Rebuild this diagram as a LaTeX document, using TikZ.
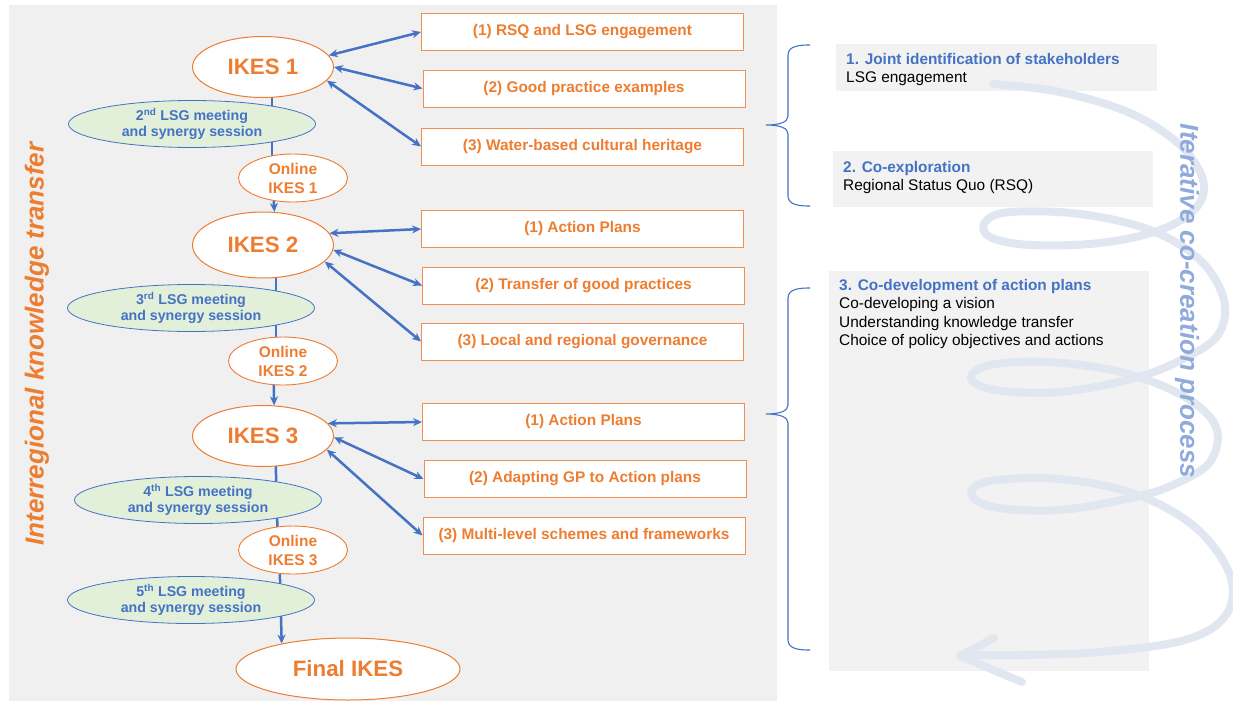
\documentclass[tikz,border=0pt]{standalone}
\usepackage{fontspec}
\setmainfont{Liberation Sans}
\usetikzlibrary{shapes.geometric,arrows.meta,calc}
\definecolor{orng}{HTML}{ED7D31}
\definecolor{blu}{HTML}{4472C4}
\definecolor{grn}{HTML}{E2F0D9}
\definecolor{panel}{HTML}{F0F0F0}
\definecolor{boxg}{HTML}{F2F2F2}
\definecolor{iter}{HTML}{8FAADC}
\definecolor{swirlc}{HTML}{E1E7F0}
\pgfdeclarelayer{bg}
\pgfdeclarelayer{lines}
\pgfsetlayers{bg,lines,main}
\tikzset{
  ikes/.style={ellipse, draw=orng, fill=white, line width=1pt, minimum width=141pt, minimum height=61pt, inner sep=0pt, font=\fontsize{22.3}{26}\selectfont\bfseries, text=orng},
  online/.style={ellipse, draw=orng, fill=white, line width=0.9pt, minimum width=109pt, minimum height=48pt, inner sep=0pt, align=center, font=\fontsize{15.5}{19}\selectfont\bfseries, text=orng},
  lsg/.style={ellipse, draw=blu, fill=grn, line width=0.8pt, minimum width=247pt, minimum height=47pt, inner sep=0pt, align=center, font=\fontsize{14.2}{16.5}\selectfont\bfseries, text=blu},
  topic/.style={rectangle, draw=orng!85, fill=white, line width=1pt, minimum width=322pt, minimum height=37pt, inner sep=0pt, font=\fontsize{15.4}{18}\selectfont\bfseries, text=orng},
  link/.style={blu, line width=2.5pt, {Stealth[length=9pt,width=8pt]}-{Stealth[length=9pt,width=8pt]}},
  vline/.style={blu, line width=2.5pt},
  downarr/.style={blu, line width=2.5pt, -{Stealth[length=9pt,width=8pt]}},
  greybox/.style={fill=boxg, draw=none},
  rtext/.style={anchor=north west, inner sep=0pt, align=left, font=\fontsize{15.4}{18.5}\selectfont},
  bracest/.style={blu, line width=1.1pt},
  swirlst/.style={swirlc, line width=8pt, line cap=round, line join=round}
}
\begin{document}
\begin{tikzpicture}[x=1pt,y=-1pt]
\useasboundingbox (0,0) rectangle (1233,704);
\begin{pgfonlayer}{bg}
  \fill[white] (0,0) rectangle (1233,704);
  \fill[panel] (9,5) rectangle (777,701);
\end{pgfonlayer}

% main ellipses
\node[ikes] (ikes1) at (263,67) {IKES 1};
\node[ikes, minimum height=66pt] (ikes2) at (263,245) {IKES 2};
\node[ikes] (ikes3) at (263,436) {IKES 3};
\node[ikes, minimum width=224pt, minimum height=62pt] (final) at (348,669) {Final IKES};

\node[online] (online1) at (293,178) {Online\\IKES 1};
\node[online] (online2) at (283,361) {Online\\IKES 2};
\node[online] (online3) at (293,550) {Online\\IKES 3};

\node[lsg] (lsg2) at (192,124) {2\textsuperscript{nd} LSG meeting\\and synergy session};
\node[lsg] (lsg3) at (191,308) {3\textsuperscript{rd} LSG meeting\\and synergy session};
\node[lsg] (lsg4) at (198,500) {4\textsuperscript{th} LSG meeting\\and synergy session};
\node[lsg] (lsg5) at (191,600) {5\textsuperscript{th} LSG meeting\\and synergy session};

% topic boxes
\node[topic] (b11) at (582.5,32) {(1) RSQ and LSG engagement};
\node[topic] (b12) at (584,88.5) {(2) Good practice examples};
\node[topic] (b13) at (582.5,146.5) {(3) Water-based cultural heritage};
\node[topic] (b21) at (582.5,229) {(1) Action Plans};
\node[topic] (b22) at (583.5,285.5) {(2) Transfer of good practices};
\node[topic] (b23) at (582.5,341.5) {(3) Local and regional governance};
\node[topic] (b31) at (583.5,422) {(1) Action Plans};
\node[topic] (b32) at (585,479) {(2) Adapting GP to Action plans};
\node[topic] (b33) at (584,535.5) {(3) Multi-level schemes and frameworks};

% vertical flow
\begin{pgfonlayer}{lines}
  \draw[vline] ([xshift=9pt]ikes1.center) -- ([xshift=-21pt]online1.center);
  \draw[vline] ([xshift=13pt]ikes2.center) -- ([xshift=-7pt]online2.center);
  \draw[vline] ([xshift=12pt]ikes3.center) -- ([xshift=-15pt]online3.center);
  \draw[downarr] (online3.241) -- (final.159);
\end{pgfonlayer}
\draw[downarr] (online1.230) -- (ikes2.71);
\draw[downarr] (online2.249) -- (ikes3.70);

% links
\draw[link] (ikes1.10) -- (b11.west);
\draw[link] (ikes1.0) -- (b12.west);
\draw[link] (ikes1.-12) -- (b13.west);
\draw[link] (ikes2.10) -- (b21.west);
\draw[link] (ikes2.-4) -- (b22.west);
\draw[link] (ikes2.-15) -- (b23.west);
\draw[link] (ikes3.11) -- (b31.west);
\draw[link] (ikes3.-1) -- (b32.west);
\draw[link] (ikes3.-12) -- (b33.west);

% left rotated label
\node[rotate=90, font=\fontsize{26}{30}\selectfont\bfseries\itshape, text=orng] (ikt) at (37,344) {Interregional knowledge transfer};

% right side grey boxes
\fill[greybox] (836,44) rectangle (1157,91);
\fill[greybox] (833,151) rectangle (1153,207);
\fill[greybox] (829,271) rectangle (1149,671);

% braces
\draw[bracest] (810,45) to[out=180,in=90] (788,55) -- (788,116) .. controls (788,122) and (780,125) .. (766,125) .. controls (780,125) and (788,128) .. (788,134) -- (788,196) to[out=-90,in=180] (810,206);
\draw[bracest] (810,288) to[out=180,in=90] (788,298) -- (788,405) .. controls (788,411) and (780,414) .. (766,414) .. controls (780,414) and (788,417) .. (788,423) -- (788,640) to[out=-90,in=180] (810,650);

% swirl
\draw[swirlst] plot[smooth, tension=0.6] coordinates {(993,84) (1060,92) (1130,113) (1180,145) (1203,180) (1196,208) (1160,230) (1100,243) (1030,245) (990,237) (985,222) (1010,212) (1080,214) (1150,230) (1200,260) (1224,300) (1218,335) (1185,358) (1135,378) (1060,392) (995,390) (971,378) (990,365) (1050,362) (1125,373) (1185,397) (1216,427) (1210,462) (1175,484) (1135,497) (1060,510) (993,507) (971,493) (990,481) (1060,479) (1135,494) (1195,527) (1230,575) (1226,615) (1185,640) (1100,652) (1020,655) (962,655)};
\draw[swirlst] (994,638) -- (960,656) -- (1022,682);

% right texts
\node[rtext] (r1) at (846,53) {\textcolor{blu}{\bfseries 1. Joint identification of stakeholders}\\LSG engagement};
\node[rtext] (r2) at (843,161) {\textcolor{blu}{\bfseries 2. Co-exploration}\\Regional Status Quo (RSQ)};
\node[rtext] (r3) at (839,279) {\textcolor{blu}{\bfseries 3. Co-development of action plans}\\Co-developing a vision\\Understanding knowledge transfer\\Choice of policy objectives and actions};

\node[rotate=-90, font=\fontsize{26}{30}\selectfont\bfseries\itshape, text=iter] (icp) at (1187,301) {Iterative co-creation process};
\end{tikzpicture}
\end{document}
